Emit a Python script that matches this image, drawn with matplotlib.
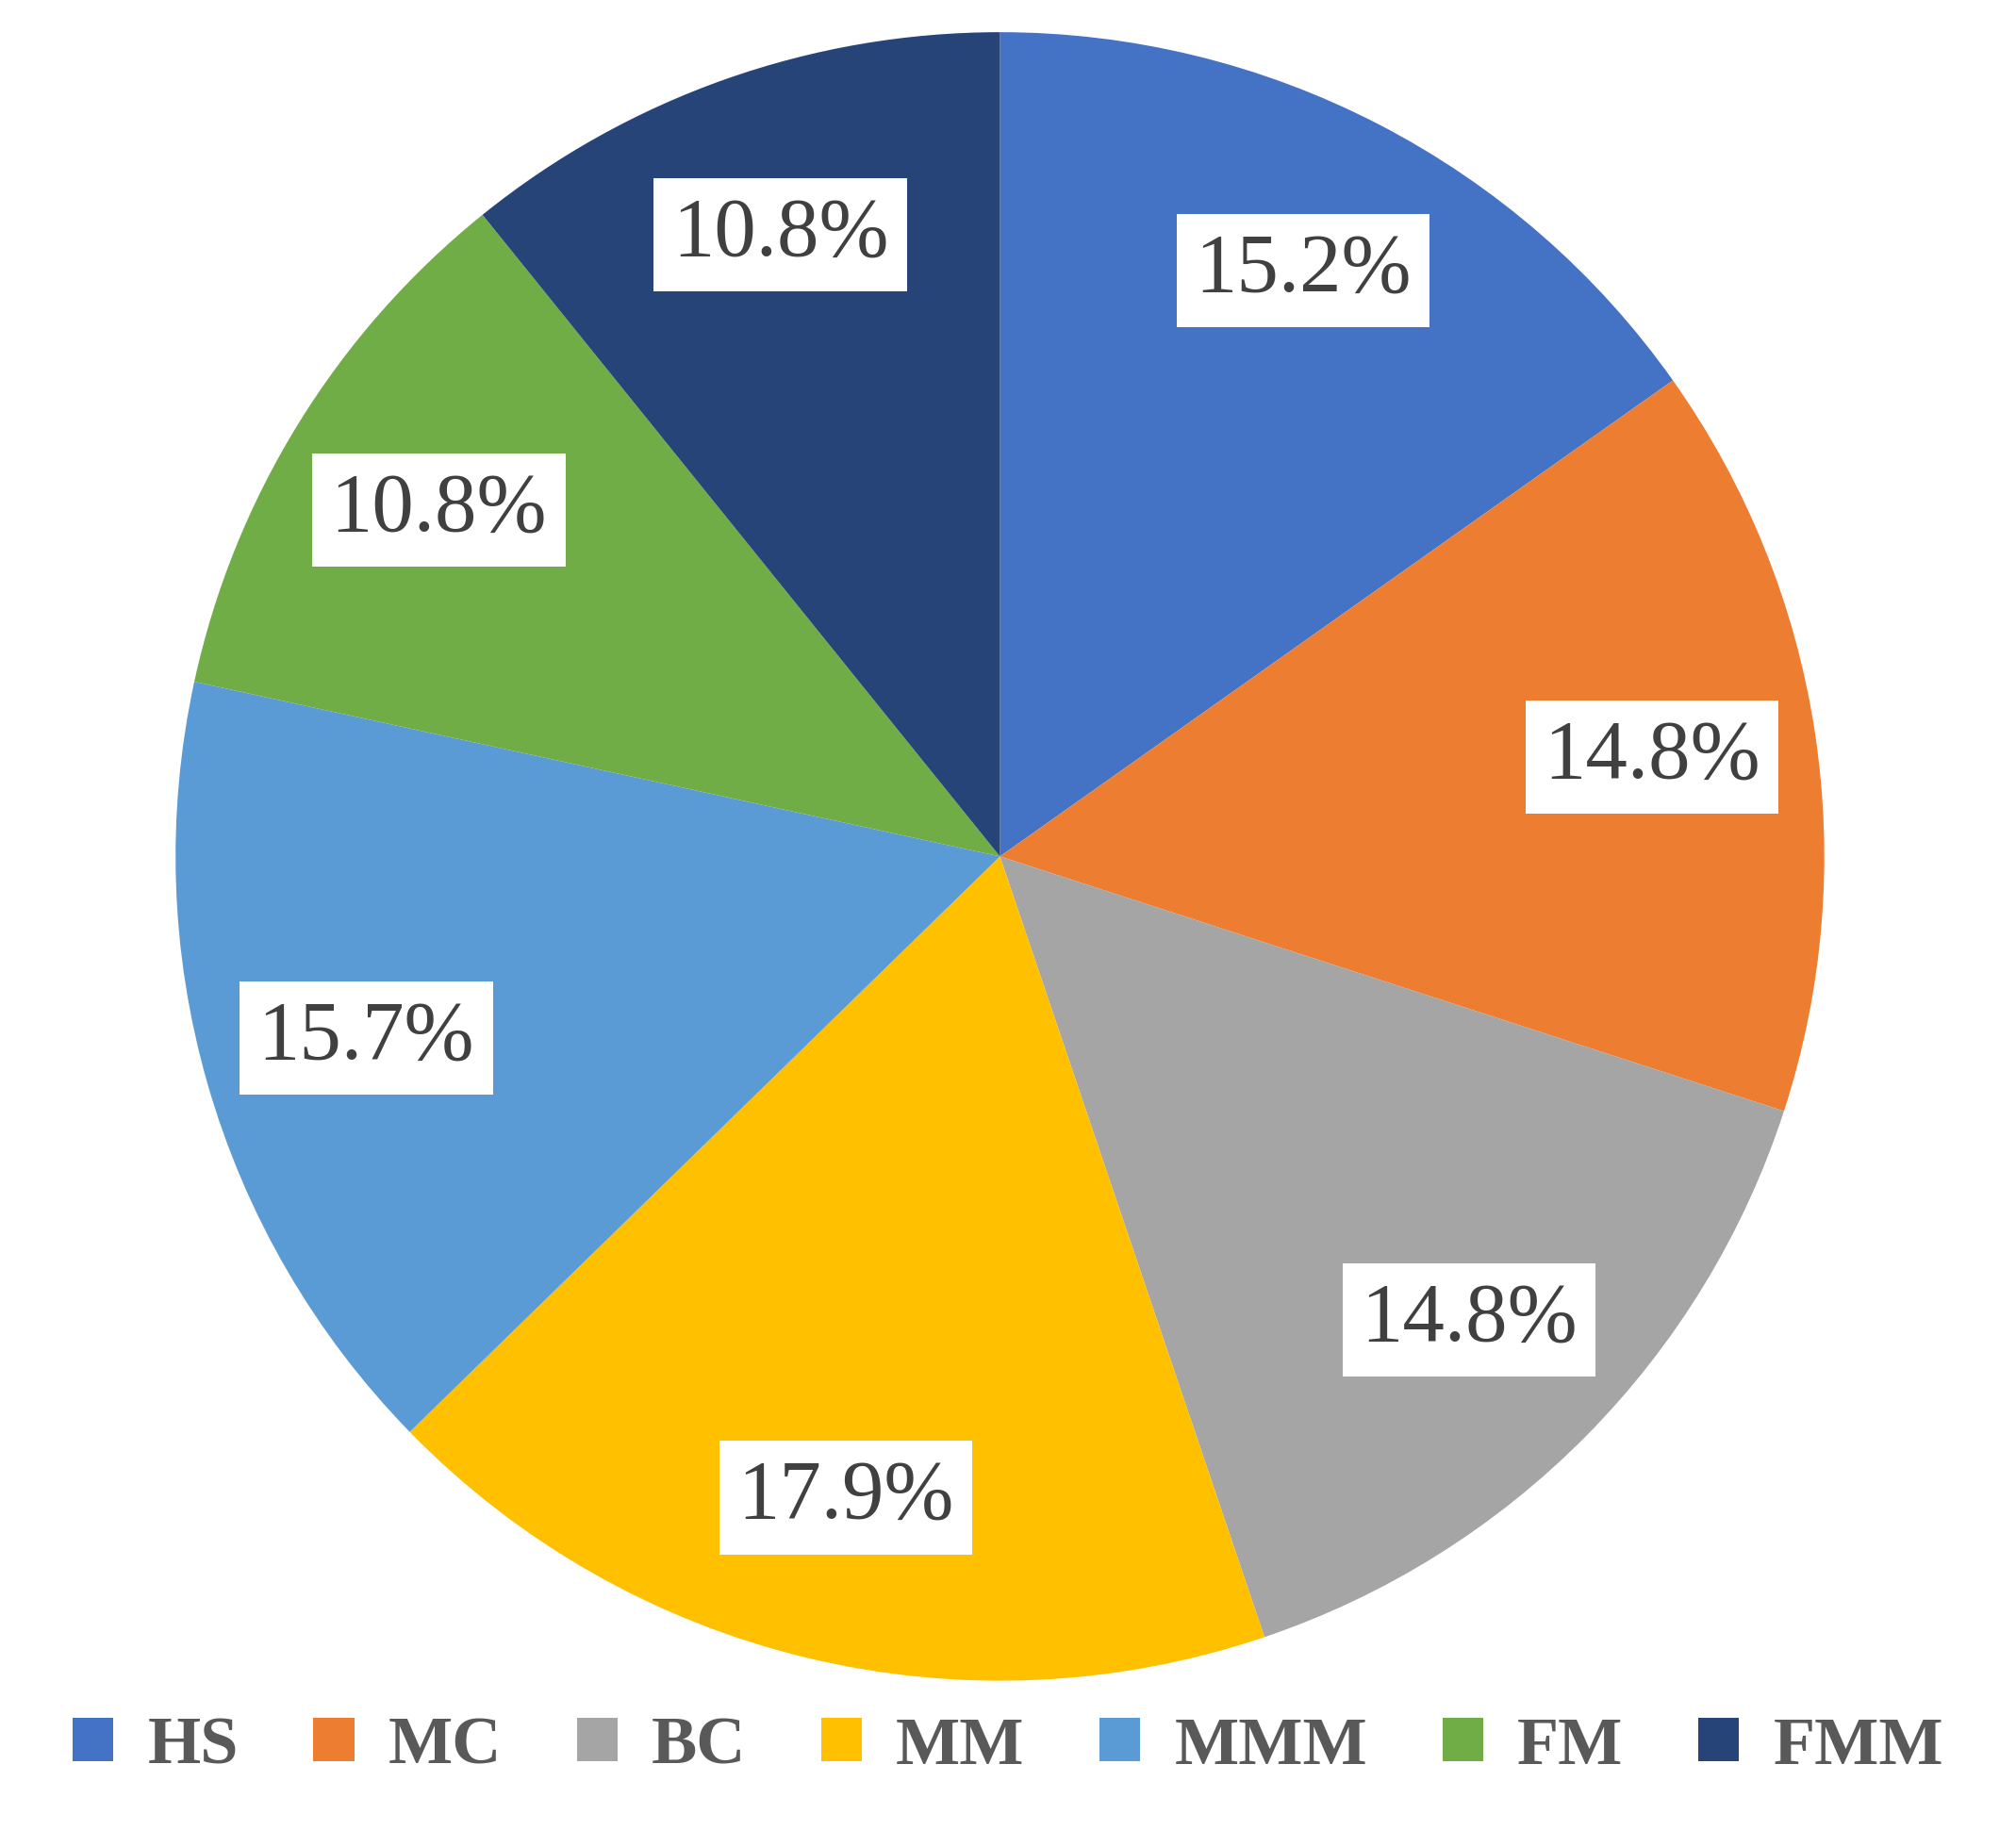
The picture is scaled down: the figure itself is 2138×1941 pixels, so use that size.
import matplotlib.pyplot as plt

labels = ["HS", "MC", "BC", "MM", "MMM", "FM", "FMM"]
values = [15.2, 14.8, 14.8, 17.9, 15.7, 10.8, 10.8]
colors = ["#4472C4", "#ED7D31", "#A5A5A5", "#FFC000", "#5B9BD5", "#70AD47", "#264478"]

plt.rcParams['font.family'] = ['Liberation Serif', 'DejaVu Serif']

fig = plt.figure(figsize=(21.38, 19.41), dpi=100)
ax = fig.add_axes([0.083, 0.0765, 0.826, 0.911])
wedges, texts, autotexts = ax.pie(
    values, colors=colors, startangle=90, counterclock=False,
    autopct=lambda p: f"{p:.1f}%", pctdistance=0.8,
    wedgeprops=dict(edgecolor="none"),
    textprops=dict(fontsize=64, color="#404040"))
for t in autotexts:
    t.set_bbox(dict(facecolor="white", edgecolor="none", pad=14))
ax.set_aspect("equal")
ax.set_xlim(-1.01, 1.01)
ax.set_ylim(-1.01, 1.01)

leg = fig.legend(wedges, labels, loc="lower center", ncol=7, frameon=False,
                 bbox_to_anchor=(0.5, -0.005), handlelength=0.6, handleheight=0.6,
                 columnspacing=1.1, handletextpad=0.5,
                 prop=dict(size=52, weight="bold"))
for t in leg.get_texts():
    t.set_color("#595959")

fig.savefig("out.png", dpi=100)
